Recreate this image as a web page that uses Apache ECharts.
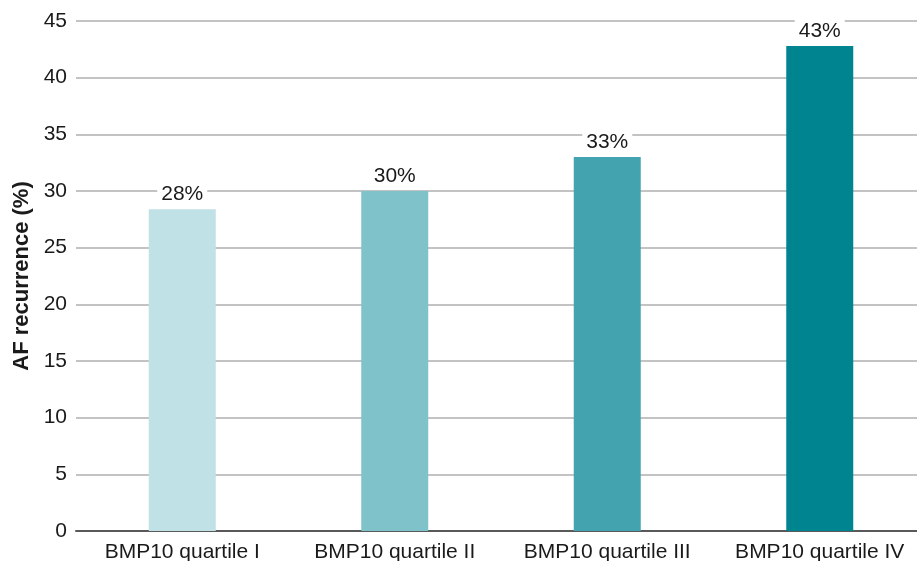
<!DOCTYPE html>
<html>
<head>
<meta charset="utf-8">
<script src="https://cdn.jsdelivr.net/npm/echarts@6/dist/echarts.min.js"></script>
<style>
  html, body { margin: 0; padding: 0; background: #fff; }
  #chart { width: 917px; height: 561px; }
</style>
</head>
<body>
<div id="chart"></div>
<script>
// AF recurrence by BMP10 quartile
const categories = ['BMP10 quartile I', 'BMP10 quartile II', 'BMP10 quartile III', 'BMP10 quartile IV'];
const recurrence = [28.4, 30.0, 33.0, 42.8];
const barColors = ['#c0e1e5', '#80c2ca', '#43a4af', '#008490'];
const yTicks = { min: 0, max: 45, interval: 5 };

const FONT = '"Liberation Sans", Arial, Helvetica, sans-serif';

const chart = echarts.init(document.getElementById('chart'), null, { renderer: 'canvas' });

chart.setOption({
  animation: false,
  backgroundColor: '#ffffff',
  grid: { left: 76, top: 21, right: -9, bottom: 30, containLabel: false, outerBoundsMode: 'none' },
  xAxis: {
    type: 'category',
    data: categories,
    axisLine: { show: true, lineStyle: { color: '#595959', width: 2 } },
    axisTick: { show: false },
    axisLabel: { color: '#1a1a1a', fontFamily: FONT, fontSize: 21, margin: 11, interval: 0 },
    splitLine: { show: false }
  },
  yAxis: {
    type: 'value',
    min: yTicks.min,
    max: yTicks.max,
    interval: yTicks.interval,
    name: 'AF recurrence (%)',
    nameLocation: 'middle',
    nameGap: 42,
    nameTextStyle: { color: '#1a1a1a', fontFamily: FONT, fontSize: 22, fontWeight: 'bold' },
    axisLine: { show: false },
    axisTick: { show: false },
    axisLabel: { color: '#1a1a1a', fontFamily: FONT, fontSize: 21, margin: 9 },
    splitLine: { show: true, lineStyle: { color: '#c3c3c3', width: 2 } }
  },
  series: [{
    type: 'bar',
    data: recurrence.map((v, i) => ({ value: v, itemStyle: { color: barColors[i] } })),
    barWidth: 67,
    label: {
      show: true,
      position: 'top',
      distance: 4,
      formatter: p => Math.round(p.value) + '%',
      color: '#1a1a1a',
      fontFamily: FONT,
      fontSize: 21,
      backgroundColor: '#ffffff',
      padding: [1, 4, 0, 4]
    }
  }]
});
</script>
</body>
</html>
